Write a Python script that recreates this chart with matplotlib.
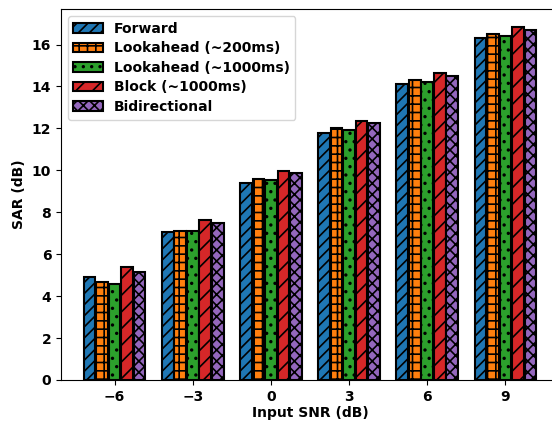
import numpy as np
import matplotlib
matplotlib.use("Agg")
import matplotlib.pyplot as plt

snr_labels = ["\u22126", "\u22123", "0", "3", "6", "9"]
methods = ["Forward", "Lookahead (~200ms)", "Lookahead (~1000ms)",
           "Block (~1000ms)", "Bidirectional"]

forward = [4.89, 7.06, 9.40, 11.78, 14.10, 16.29]
lookahead_200 = [4.65, 7.13, 9.60, 12.01, 14.29, 16.49]
lookahead_1000 = [4.59, 7.11, 9.56, 11.92, 14.20, 16.43]
block_1000 = [5.40, 7.63, 9.97, 12.37, 14.65, 16.84]
bidirectional = [5.16, 7.51, 9.89, 12.24, 14.52, 16.70]

series = [forward, lookahead_200, lookahead_1000, block_1000, bidirectional]
colors = ["#1f77b4", "#ff7f0e", "#2ca02c", "#d62728", "#9467bd"]
hatches = ["///", "++", "..", "//", "xxx"]

plt.rcParams["font.weight"] = "bold"
plt.rcParams["axes.labelweight"] = "bold"
plt.rcParams["hatch.linewidth"] = 1.2

fig = plt.figure(figsize=(5.52, 4.21), dpi=100)
ax = fig.add_axes([0.1105, 0.0974, 0.9022, 0.8806])

x = np.arange(len(snr_labels))
width = 0.15
step = 0.16
for i, vals in enumerate(series):
    ax.bar(x + (i - 2) * step, vals, width, color=colors[i], hatch=hatches[i],
           edgecolor="black", linewidth=1.5, label=methods[i])

ax.set_xticks(x)
ax.set_xticklabels(snr_labels)
ax.set_xlabel("Input SNR (dB)", fontweight="bold", labelpad=2)
ax.set_ylabel("SAR (dB)", fontweight="bold")
ax.legend(loc="upper left", prop={"weight": "bold"}, labelspacing=0.4,
          handlelength=2.1)

fig.savefig("out.png", dpi=100)
